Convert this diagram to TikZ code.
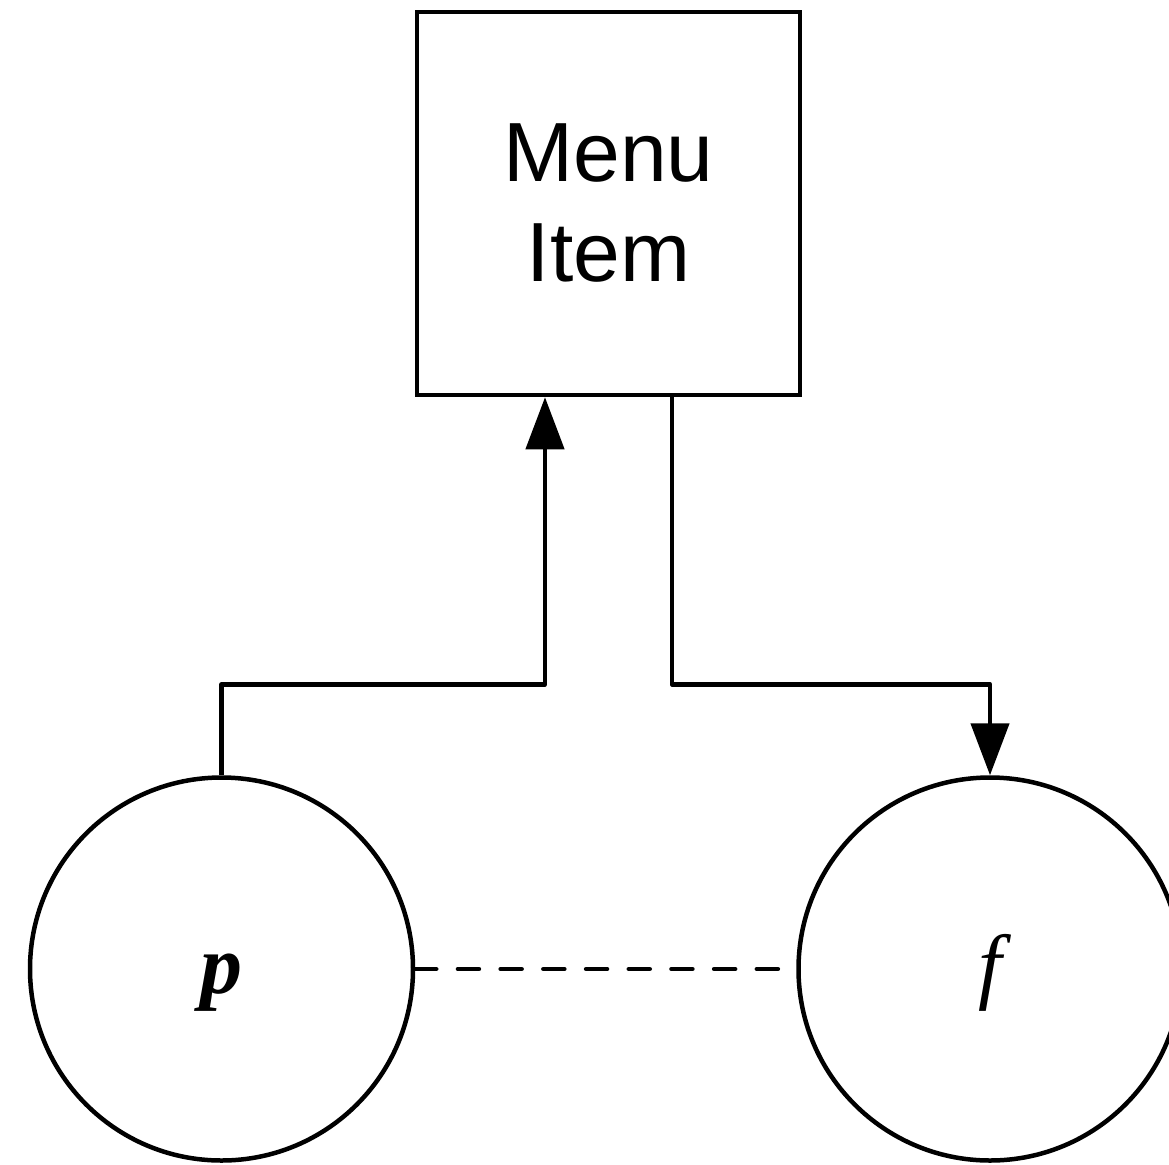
\documentclass[tikz,border=0pt]{standalone}
\usepackage{fontspec}
\setmainfont{Liberation Sans}
\newfontfamily\tms{Liberation Serif}
\usetikzlibrary{arrows.meta}
\begin{document}
\begin{tikzpicture}[x=1pt,y=-1pt,
  boxnode/.style={draw,line width=4.5pt,rectangle,minimum width=383pt,minimum height=383pt,inner sep=0pt,align=center,
    font=\fontsize{84}{100}\selectfont},
  circnode/.style={draw,line width=4.5pt,circle,minimum size=383pt,inner sep=0pt,
    text height=60pt,text depth=12pt,font=\tms\fontsize{84}{90}\selectfont\itshape},
  conn/.style={line width=4.5pt,line join=round,-{Triangle[length=52pt,width=38pt]}},
  dashline/.style={line width=4.5pt,line cap=round,dash pattern=on 21pt off 21.7pt}]
\useasboundingbox (0,0) rectangle (1169,1164);
\node[boxnode] (box) at (608.5,203.5) {Menu\\Item};
\node[circnode] (p) at (221.5,969) {\bfseries p};
\node[circnode] (f) at (990,969) {f};
\draw[conn] (p.north) -- ++(0,-91) -| ([xshift=-63.5pt]box.south);
\draw[conn] ([xshift=63.5pt]box.south) -- ++(0,287) -| (f.north);
\draw[dashline] (p.east) -- ([xshift=-18pt]f.west);
\end{tikzpicture}
\end{document}
